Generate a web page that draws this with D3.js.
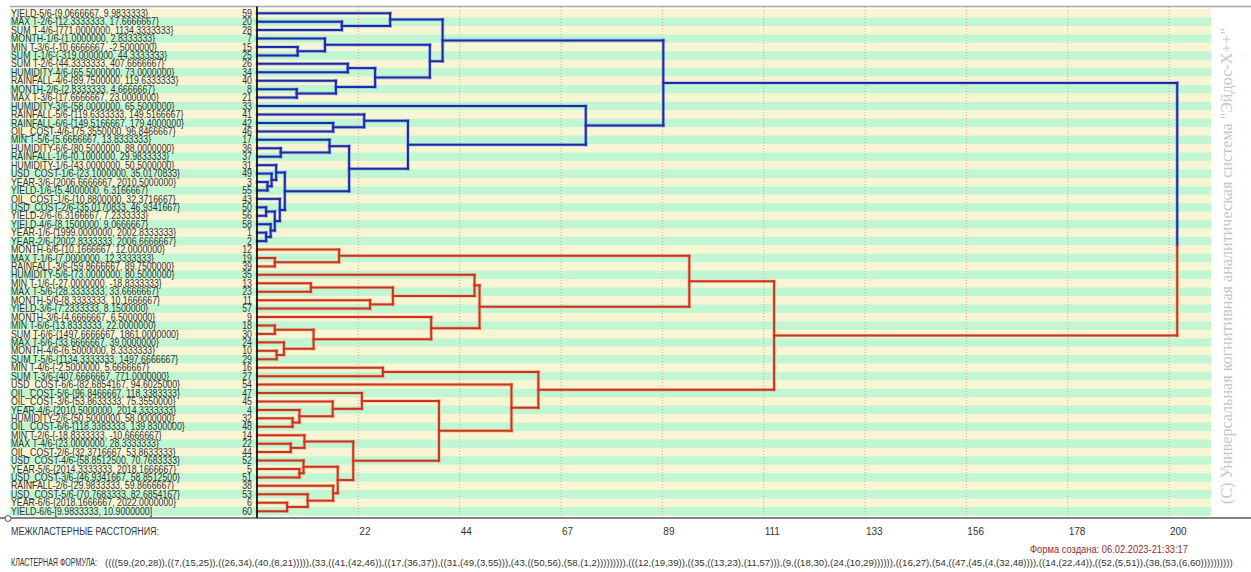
<!DOCTYPE html>
<html>
<head>
<meta charset="utf-8">
<script src="https://cdn.jsdelivr.net/npm/d3@7"></script>
<style>
  html, body { margin: 0; padding: 0; background: #ffffff; }
  svg { display: block; }
</style>
</head>
<body>
<svg id="chart" width="1251" height="572"></svg>
<script>
// Leaves in drawing order (top to bottom): feature number and its gradation name
const leafIds = [59, 20, 28, 7, 15, 25, 26, 34, 40, 8, 21, 33, 41, 42, 46, 17, 36, 37, 31, 49,
  3, 55, 43, 50, 56, 58, 1, 2, 12, 19, 39, 35, 13, 23, 11, 57, 9, 18, 30, 24,
  10, 29, 16, 27, 54, 47, 45, 4, 32, 48, 14, 22, 44, 52, 5, 51, 38, 53, 6, 60];

const leafLabels = [
  "YIELD-5/6-{9.0666667, 9.9833333}",
  "MAX T-2/6-{12.3333333, 17.6666667}",
  "SUM T-4/6-{771.0000000, 1134.3333333}",
  "MONTH-1/6-{1.0000000, 2.8333333}",
  "MIN T-3/6-{-10.6666667, -2.5000000}",
  "SUM T-1/6-{-319.0000000, 44.3333333}",
  "SUM T-2/6-{44.3333333, 407.6666667}",
  "HUMIDITY-4/6-{65.5000000, 73.0000000}",
  "RAINFALL-4/6-{89.7500000, 119.6333333}",
  "MONTH-2/6-{2.8333333, 4.6666667}",
  "MAX T-3/6-{17.6666667, 23.0000000}",
  "HUMIDITY-3/6-{58.0000000, 65.5000000}",
  "RAINFALL-5/6-{119.6333333, 149.5166667}",
  "RAINFALL-6/6-{149.5166667, 179.4000000}",
  "OIL_COST-4/6-{75.3550000, 96.8466667}",
  "MIN T-5/6-{5.6666667, 13.8333333}",
  "HUMIDITY-6/6-{80.5000000, 88.0000000}",
  "RAINFALL-1/6-{0.1000000, 29.9833333}",
  "HUMIDITY-1/6-{43.0000000, 50.5000000}",
  "USD_COST-1/6-{23.1000000, 35.0170833}",
  "YEAR-3/6-{2006.6666667, 2010.5000000}",
  "YIELD-1/6-{5.4000000, 6.3166667}",
  "OIL_COST-1/6-{10.8800000, 32.3716667}",
  "USD_COST-2/6-{35.0170833, 46.9341667}",
  "YIELD-2/6-{6.3166667, 7.2333333}",
  "YIELD-4/6-{8.1500000, 9.0666667}",
  "YEAR-1/6-{1999.0000000, 2002.8333333}",
  "YEAR-2/6-{2002.8333333, 2006.6666667}",
  "MONTH-6/6-{10.1666667, 12.0000000}",
  "MAX T-1/6-{7.0000000, 12.3333333}",
  "RAINFALL-3/6-{59.8666667, 89.7500000}",
  "HUMIDITY-5/6-{73.0000000, 80.5000000}",
  "MIN T-1/6-{-27.0000000, -18.8333333}",
  "MAX T-5/6-{28.3333333, 33.6666667}",
  "MONTH-5/6-{8.3333333, 10.1666667}",
  "YIELD-3/6-{7.2333333, 8.1500000}",
  "MONTH-3/6-{4.6666667, 6.5000000}",
  "MIN T-6/6-{13.8333333, 22.0000000}",
  "SUM T-6/6-{1497.6666667, 1861.0000000}",
  "MAX T-6/6-{33.6666667, 39.0000000}",
  "MONTH-4/6-{6.5000000, 8.3333333}",
  "SUM T-5/6-{1134.3333333, 1497.6666667}",
  "MIN T-4/6-{-2.5000000, 5.6666667}",
  "SUM T-3/6-{407.6666667, 771.0000000}",
  "USD_COST-6/6-{82.6854167, 94.6025000}",
  "OIL_COST-5/6-{96.8466667, 118.3383333}",
  "OIL_COST-3/6-{53.8633333, 75.3550000}",
  "YEAR-4/6-{2010.5000000, 2014.3333333}",
  "HUMIDITY-2/6-{50.5000000, 58.0000000}",
  "OIL_COST-6/6-{118.3383333, 139.8300000}",
  "MIN T-2/6-{-18.8333333, -10.6666667}",
  "MAX T-4/6-{23.0000000, 28.3333333}",
  "OIL_COST-2/6-{32.3716667, 53.8633333}",
  "USD_COST-4/6-{58.8512500, 70.7683333}",
  "YEAR-5/6-{2014.3333333, 2018.1666667}",
  "USD_COST-3/6-{46.9341667, 58.8512500}",
  "RAINFALL-2/6-{29.9833333, 59.8666667}",
  "USD_COST-5/6-{70.7683333, 82.6854167}",
  "YEAR-6/6-{2018.1666667, 2022.0000000}",
  "YIELD-6/6-[9.9833333, 10.9000000]"
];

// Merge tree: [inter-cluster distance, left, right]; a bare number is a leaf
const blueCluster =
  [89.1,
    [40.7,
      [29.2, 59, [18.6, 20, 28]],
      [37.9,
        [14.9, 7, [8.9, 15, 25]],
        [25.9, [19.9, 26, 34], [17.3, 40, [8.7, 8, 21]]]]],
    [72.1, 33,
      [33.1,
        [23.5, 41, [16.7, 42, 46]],
        [20.2,
          [15.9, 17, [5.2, 36, 37]],
          [6.1,
            [4.2, 31, [3.2, 49, [2.3, 3, 55]]],
            [5.0, 43, [3.9, [2.0, 50, 56], [3.0, 58, [2.0, 1, 2]]]]]]]]];

const redCluster =
  [113.4,
    [94.8,
      [18.0, 12, [3.9, 19, 39]],
      [48.8,
        [47.7, 35, [29.8, [11.8, 13, 23], [24.8, 11, 57]]],
        [38.2, 9, [12.4, [3.9, 18, 30], [5.9, 24, [4.3, 10, 29]]]]]],
    [61.7,
      [27.6, 16, 27],
      [55.8, 54,
        [39.9,
          [23.0, 47, [16.6, 45, [9.3, 4, [7.8, 32, 48]]]],
          [21.1,
            [10.4, 14, [7.4, 22, 44]],
            [17.7,
              [10.2, 52, [9.3, 5, 51]],
              [16.7, 38, [11.1, 53, [6.6, 6, 60]]]]]]]]];

const rootDistance = 201.8;

const tickValues = [22.22, 44.44, 66.67, 88.89, 111.11, 133.33, 155.56, 177.78, 200];
const clusterColors = ["#1c2ca6", "#c9361c"];
const haloColors = ["#8d9be6", "#eea58f"];

const axisTitle = "МЕЖКЛАСТЕРНЫЕ РАССТОЯНИЯ:";
const formulaTitle = "КЛАСТЕРНАЯ ФОРМУЛА:";
const createdText = "Форма создана: 06.02.2023-21:33:17";
const copyrightText = "(С) Универсальная когнитивная аналитическая система \"Эйдос-Х++\"";

// ---------------------------------------------------------------------------
const SANS = "Arial, 'Liberation Sans', sans-serif";
const SERIF = "'Liberation Serif', 'Times New Roman', 'DejaVu Serif', serif";

const svg = d3.select("#chart").style("font-family", SANS);
const W = 1251;

const plotLeft = 257, stripeLeft = 10, stripeRight = 1211;
const rowTop = 9, rowBottom = 515.4;

const x = d3.scaleLinear().domain([0, 200]).range([plotLeft, 1169]);
const y = d3.scaleBand().domain(leafIds).range([rowTop, rowBottom]).padding(0);
const bw = y.bandwidth();
const yc = id => y(id) + bw / 2;

// striped background rows
svg.append("g").selectAll("rect")
  .data(leafIds)
  .join("rect")
  .attr("x", stripeLeft)
  .attr("y", d => y(d))
  .attr("width", stripeRight - stripeLeft)
  .attr("height", bw + 0.3)
  .attr("fill", (d, i) => i % 2 === 0 ? "#f7f5d3" : "#c0f6d1");

// dotted vertical grid
svg.append("g").selectAll("line")
  .data(tickValues)
  .join("line")
  .attr("x1", d => x(d)).attr("x2", d => x(d))
  .attr("y1", 7).attr("y2", 518)
  .attr("stroke", "#d4a6a0")
  .attr("stroke-width", 1)
  .attr("stroke-dasharray", "1,2");

// frame lines
svg.append("line").attr("x1", stripeLeft).attr("x2", W).attr("y1", 6.5).attr("y2", 6.5)
  .attr("stroke", "#a8a8a8").attr("stroke-width", 1.5);
svg.append("line").attr("x1", 0).attr("x2", W).attr("y1", 518).attr("y2", 518)
  .attr("stroke", "#5a5a5a").attr("stroke-width", 1.5);
svg.append("circle").attr("cx", 8).attr("cy", 518.5).attr("r", 3)
  .attr("fill", "#fff").attr("stroke", "#555").attr("stroke-width", 1);

// leaf labels and numbers
const labelG = svg.append("g").attr("fill", "#333").attr("font-size", 10);
labelG.selectAll("text.name")
  .data(leafIds)
  .join("text")
  .attr("class", "name")
  .attr("transform", d => `translate(11,${yc(d) + 3.6}) scale(0.88,1)`)
  .text((d, i) => leafLabels[i]);
labelG.selectAll("text.num")
  .data(leafIds)
  .join("text")
  .attr("class", "num")
  .attr("text-anchor", "end")
  .attr("transform", d => `translate(252,${yc(d) + 3.6}) scale(0.88,1)`)
  .text(d => d);

// build hierarchy
const tree = [rootDistance, blueCluster, redCluster];
const root = d3.hierarchy(tree, n => Array.isArray(n) ? [n[1], n[2]] : null);
root.eachAfter(n => {
  if (!n.children) {
    n.px = x(0);
    n.py = yc(n.data);
  } else {
    n.px = x(n.data[0]);
    n.py = (n.children[0].py + n.children[1].py) / 2;
  }
});
root.children.forEach((c, i) => c.each(n => { n.group = i; }));

// segments of the dendrogram
const segs = [];
root.each(n => {
  if (!n.children) return;
  const [a, b] = n.children;
  n.children.forEach(c => segs.push({ x1: c.px, y1: c.py, x2: n.px, y2: c.py, g: c.group }));
  if (n === root) {
    // the top joint changes colour where the two clusters meet
    const split = y(b.leaves()[0].data);
    segs.push({ x1: n.px, y1: a.py, x2: n.px, y2: split, g: 0 });
    segs.push({ x1: n.px, y1: split, x2: n.px, y2: b.py, g: 1 });
  } else {
    segs.push({ x1: n.px, y1: a.py, x2: n.px, y2: b.py, g: n.group });
  }
});

const linkG = svg.append("g").attr("stroke-linecap", "square");
linkG.selectAll("line.halo")
  .data(segs).join("line").attr("class", "halo")
  .attr("x1", d => d.x1).attr("y1", d => d.y1).attr("x2", d => d.x2).attr("y2", d => d.y2)
  .attr("stroke", d => haloColors[d.g]).attr("stroke-width", 3.6).attr("stroke-opacity", 0.55);
linkG.selectAll("line.core")
  .data(segs).join("line").attr("class", "core")
  .attr("x1", d => d.x1).attr("y1", d => d.y1).attr("x2", d => d.x2).attr("y2", d => d.y2)
  .attr("stroke", d => clusterColors[d.g]).attr("stroke-width", 2);

// left axis line
svg.append("line").attr("x1", plotLeft).attr("x2", plotLeft).attr("y1", 6.5).attr("y2", 518)
  .attr("stroke", "#111").attr("stroke-width", 1.8);

// distance axis labels
const axis = d3.axisBottom(x).tickValues(tickValues).tickFormat(d3.format(".0f")).tickSize(0);
const axG = svg.append("g").attr("transform", "translate(0,525)").call(axis);
axG.select(".domain").remove();
axG.attr("font-family", null).attr("font-size", null);
axG.selectAll("text")
  .attr("fill", "#333")
  .style("font-size", "10px")
  .style("font-family", SANS)
  .attr("text-anchor", "start")
  .attr("dy", 0)
  .attr("y", 10)
  .attr("x", 0.5);

svg.append("text").attr("x", 11).attr("y", 535)
  .attr("font-size", 10).attr("fill", "#333")
  .attr("textLength", 148).attr("lengthAdjust", "spacingAndGlyphs")
  .text(axisTitle);

svg.append("text").attr("x", 1188).attr("y", 553)
  .attr("text-anchor", "end")
  .attr("font-size", 10).attr("fill", "#9a2b2b")
  .attr("textLength", 158).attr("lengthAdjust", "spacingAndGlyphs")
  .text(createdText);

// cluster formula generated from the merge tree
const formula = n => Array.isArray(n) ? "(" + formula(n[1]) + "," + formula(n[2]) + ")" : String(n);
svg.append("text").attr("x", 11).attr("y", 566)
  .attr("font-size", 10).attr("fill", "#333")
  .attr("textLength", 86).attr("lengthAdjust", "spacingAndGlyphs")
  .text(formulaTitle);

// size the formula so that it runs from x=105 to x=1235
const formulaText = svg.append("text").attr("x", 105).attr("y", 566)
  .attr("font-size", 10).attr("fill", "#333")
  .text(formula(tree));
const natural = formulaText.node().getComputedTextLength();
formulaText.attr("font-size", 10 * 1130 / natural);

// vertical copyright line
svg.append("text")
  .attr("transform", "translate(1232,266) rotate(-90)")
  .attr("text-anchor", "middle")
  .style("font-family", SERIF)
  .attr("font-size", 16).attr("fill", "#c6c6c6")
  .attr("textLength", 476).attr("lengthAdjust", "spacingAndGlyphs")
  .text(copyrightText);
</script>
</body>
</html>
